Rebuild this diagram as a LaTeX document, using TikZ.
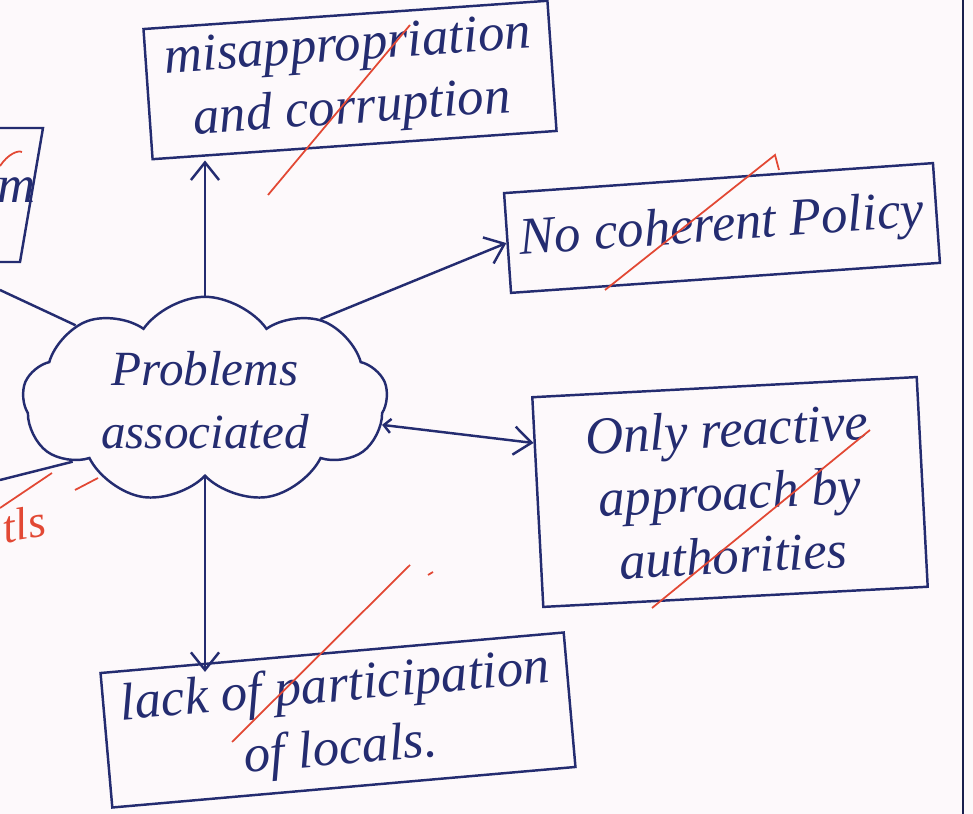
\documentclass[tikz,border=0pt]{standalone}
\usepackage{fontspec}
\setmainfont{Liberation Serif}
\usetikzlibrary{shapes.symbols, arrows.meta, positioning}
\definecolor{ink}{RGB}{36,44,112}
\definecolor{redpen}{RGB}{226,72,52}
\definecolor{paper}{RGB}{253,249,251}

\begin{document}
\begin{tikzpicture}[x=0.02cm, y=0.02cm,
    box/.style={rectangle, draw=ink, line width=1.4pt, align=center, text=ink, inner sep=6pt, font=\itshape\fontsize{30}{36}\selectfont},
    arr/.style={draw=ink, line width=1.4pt, -{Straight Barb[length=10pt, width=16pt]}},
    tick/.style={redpen, line width=1pt}
]

% Page
\fill[paper] (0,0) rectangle (973,814);
\useasboundingbox (0,0) rectangle (973,814);
\draw[ink!70!black, line width=1.4pt] (963,0) -- (963,814);

% Centre cloud
\node[cloud, draw=ink, line width=1.4pt, cloud puffs=9, cloud puff arc=110, aspect=2.2,
      minimum width=7.3cm, minimum height=3.7cm, align=center, text=ink,
      font=\itshape\fontsize{28}{36}\selectfont] (prob) at (205,414) {Problems\\associated};

% Boxes round it
\node[box, rotate=4, minimum width=8.1cm, minimum height=2.3cm] (misuse) at (350,734) {misappropriation\\and corruption};
\node[box, rotate=4, minimum width=8.6cm, minimum height=2cm] (policy) at (722,586) {No coherent Policy};
\node[box, rotate=3, minimum width=7.7cm, minimum height=4.2cm] (react) at (730,322) {Only reactive\\approach by\\authorities};
\node[box, rotate=5, minimum width=9.3cm, minimum height=2.7cm] (locals) at (338,94) {lack of participation\\of locals.};

% Box cut off at the left edge
\draw[ink, line width=1.4pt] (0,686) -- (43,686) -- (20,552) -- (0,552);
\node[text=ink, inner sep=0pt, font=\itshape\fontsize{30}{36}\selectfont] (lefttxt) at (17,624) {m};
\coordinate (offa) at (0,524);
\coordinate (offb) at (0,334);

% Connectors
\draw[arr] (prob.north) -- (prob.north |- misuse.south west);
\draw[arr] (prob.35) -- (policy.west);
\draw[draw=ink, line width=1.4pt, {Straight Barb[length=4pt, width=8pt]}-{Straight Barb[length=10pt, width=16pt]}] (prob.-8) -- (react.163);
\draw[arr] (prob.south) -- (prob.south |- locals.north west);
\draw[ink, line width=1.4pt] (prob.150) -- (offa);
\draw[ink, line width=1.4pt] (prob.205) -- (offb);

% Red marks
\draw[tick] (268,619) -- (410,789);
\draw[tick] (605,524) -- (775,659) -- (779,644);
\draw[tick] (652,206) -- (870,384);
\draw[tick] (232,72) -- (410,249);
\draw[tick] (0,306) -- (52,341);
\draw[tick] (75,324) -- (98,336);
\draw[tick] (0,648) .. controls (8,660) and (18,664) .. (22,662);
\draw[tick] (428,239) -- (433,242);
\node[text=redpen, inner sep=0pt, rotate=10, font=\itshape\fontsize{26}{30}\selectfont] (mark) at (24,290) {tls};

\end{tikzpicture}
\end{document}
